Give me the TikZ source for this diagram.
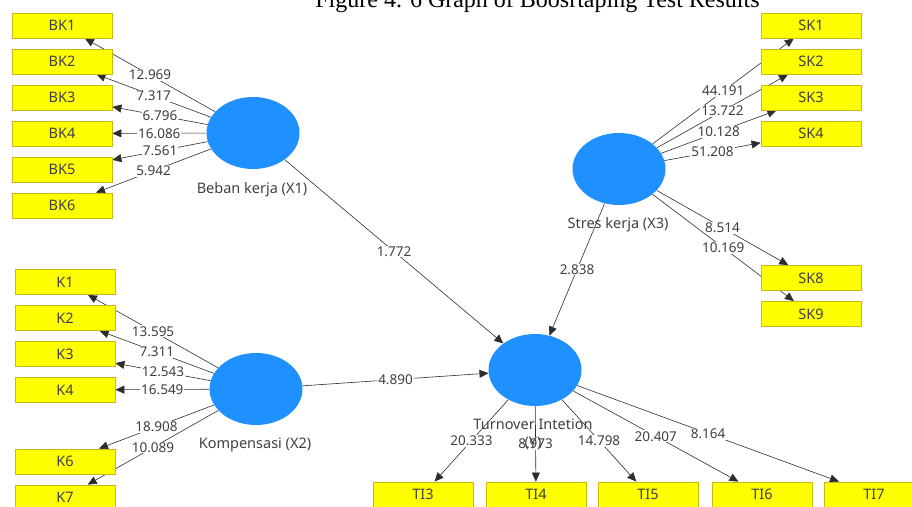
\documentclass[tikz,border=0pt]{standalone}
\usepackage{fontspec}
\setmainfont{Noto Sans}
\newfontfamily\titlefont{Liberation Serif}
\usetikzlibrary{shapes.geometric,arrows.meta,backgrounds}
\definecolor{lvblue}{RGB}{30,144,255}
\definecolor{mvyellow}{RGB}{255,255,0}
\definecolor{mvedge}{RGB}{200,185,20}
\definecolor{pathgray}{RGB}{45,45,45}
\definecolor{txtgray}{RGB}{64,64,64}
\tikzset{
  latent/.style={ellipse, fill=lvblue, minimum width=93pt, minimum height=72pt, inner sep=0pt},
  indic/.style={rectangle, fill=mvyellow, draw=mvedge, line width=0.8pt, minimum width=100pt,
    minimum height=25pt, inner sep=0pt, text=txtgray, font=\fontsize{14.5}{16}\selectfont},
  lvname/.style={text=txtgray, font=\fontsize{14.5}{18}\selectfont, align=center},
  arr/.style={-{Triangle[length=9pt,width=8pt]}, draw=pathgray, line width=0.6pt},
  val/.style={fill=white, inner sep=1pt, text=txtgray, font=\fontsize{13.5}{15}\selectfont}
}
\begin{document}
\begin{tikzpicture}[x=1pt, y=-1pt]
\useasboundingbox (0,0) rectangle (912,506);
\clip (0,0) rectangle (912,506);

\node[font=\titlefont\fontsize{24}{28}\selectfont, anchor=base] (title) at (537.5,8) {Figure 4. 6 Graph of Boosrtaping Test Results};

% latent variables
\node[latent] (X1) at (253,133) {};
\node[latent] (X2) at (256,389) {};
\node[latent] (X3) at (619,169) {};
\node[latent] (Y) at (535,370) {};

% indicators of X1
\node[indic] (BK1) at (62,25.5) {BK1};
\node[indic] (BK2) at (62,61.5) {BK2};
\node[indic] (BK3) at (62,97.5) {BK3};
\node[indic] (BK4) at (62,133.5) {BK4};
\node[indic] (BK5) at (62,169.5) {BK5};
\node[indic] (BK6) at (62,205.5) {BK6};

% indicators of X2
\node[indic] (K1) at (65,282) {K1};
\node[indic] (K2) at (65,318) {K2};
\node[indic] (K3) at (65,354) {K3};
\node[indic] (K4) at (65,390) {K4};
\node[indic] (K6) at (65,461.5) {K6};
\node[indic] (K7) at (65,497.5) {K7};

% indicators of X3
\node[indic] (SK1) at (811,25.5) {SK1};
\node[indic] (SK2) at (811,61.5) {SK2};
\node[indic] (SK3) at (811,97.5) {SK3};
\node[indic] (SK4) at (811,133.5) {SK4};
\node[indic] (SK8) at (811,278) {SK8};
\node[indic] (SK9) at (811,314) {SK9};

% indicators of Y
\node[indic] (TI3) at (423,494.5) {TI3};
\node[indic] (TI4) at (536,494.5) {TI4};
\node[indic] (TI5) at (648,494.5) {TI5};
\node[indic] (TI6) at (762,494.5) {TI6};
\node[indic] (TI7) at (874,494.5) {TI7};

\begin{pgfonlayer}{background}
\draw[arr] (X1) -- node[val] {12.969} (BK1);
\draw[arr] (X1) -- node[val] {7.317} (BK2);
\draw[arr] (X1) -- node[val] {6.796} (BK3);
\draw[arr] (X1) -- node[val] {16.086} (BK4);
\draw[arr] (X1) -- node[val] {7.561} (BK5);
\draw[arr] (X1) -- node[val] {5.942} (BK6);

\draw[arr] (X2) -- node[val] {13.595} (K1);
\draw[arr] (X2) -- node[val] {7.311} (K2);
\draw[arr] (X2) -- node[val] {12.543} (K3);
\draw[arr] (X2) -- node[val] {16.549} (K4);
\draw[arr] (X2) -- node[val] {18.908} (K6);
\draw[arr] (X2) -- node[val] {10.089} (K7);

\draw[arr] (X3) -- node[val] {44.191} (SK1);
\draw[arr] (X3) -- node[val] {13.722} (SK2);
\draw[arr] (X3) -- node[val] {10.128} (SK3);
\draw[arr] (X3) -- node[val] {51.208} (SK4);
\draw[arr] (X3) -- node[val] {8.514} (SK8);
\draw[arr] (X3) -- node[val] {10.169} (SK9);

\draw[arr] (Y) -- node[val] {20.333} (TI3);
\draw[arr] (Y) -- node[val] {8.973} (TI4);
\draw[arr] (Y) -- node[val] {14.798} (TI5);
\draw[arr] (Y) -- node[val] {20.407} (TI6);
\draw[arr] (Y) -- node[val] {8.164} (TI7);

% structural paths
\draw[arr] (X1) -- node[val] {1.772} (Y);
\draw[arr] (X2) -- node[val] {4.890} (Y);
\draw[arr] (X3) -- node[val] {2.838} (Y);
\end{pgfonlayer}

\node[lvname] (X1name) at (252,190) {Beban kerja (X1)};
\node[lvname] (X2name) at (255,445) {Kompensasi (X2)};
\node[lvname] (X3name) at (618,225) {Stres kerja (X3)};
\node[lvname] (Yname) at (533,434) {Turnover Intetion\\(Y)};
\end{tikzpicture}
\end{document}
